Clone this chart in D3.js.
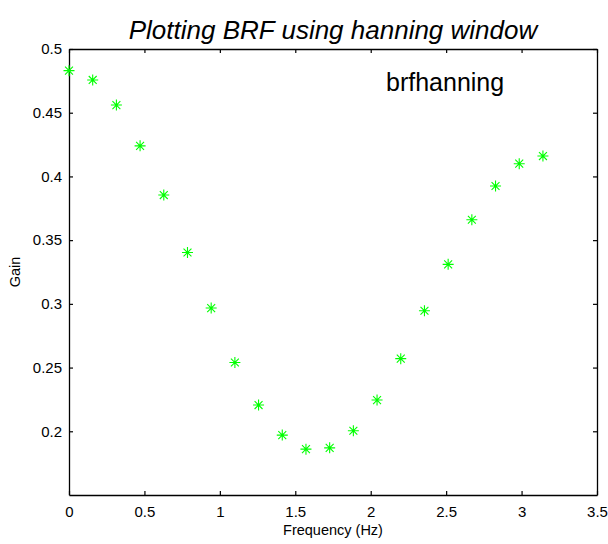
<!DOCTYPE html>
<html>
<head>
<meta charset="utf-8">
<script src="https://cdn.jsdelivr.net/npm/d3@7"></script>
<style>
  html, body { margin: 0; padding: 0; background: #fff; }
  svg { display: block; font-family: Arial, "Liberation Sans", Helvetica, sans-serif; }
</style>
</head>
<body>
<svg id="chart" width="608" height="544"></svg>
<script>
// Sample frequencies (Hz) and band-reject filter gain, Hanning window
const frequency = [0, 0.1571, 0.3142, 0.4712, 0.6283, 0.7854, 0.9425, 1.0996, 1.2566, 1.4137,
  1.5708, 1.7279, 1.8850, 2.0420, 2.1991, 2.3562, 2.5133, 2.6704, 2.8274, 2.9845, 3.1416];
const gain = [0.483, 0.4757, 0.456, 0.424, 0.3854, 0.3403, 0.2967, 0.254, 0.2206, 0.197,
  0.186, 0.187, 0.2004, 0.2245, 0.257, 0.2946, 0.331, 0.366, 0.3925, 0.410, 0.416];

const xTicks = [0, 0.5, 1, 1.5, 2, 2.5, 3, 3.5];
const yTicks = [0.2, 0.25, 0.3, 0.35, 0.4, 0.45, 0.5];
const xDomain = [0, 3.5];
const yDomain = [0.15, 0.5];

const titleText = "Plotting BRF using hanning window";
const xLabel = "Frequency (Hz)";
const yLabel = "Gain";
const legendText = "brfhanning";

const svg = d3.select("#chart");
const box = { left: 69, right: 597, top: 49, bottom: 495 };

const x = d3.scaleLinear().domain(xDomain).range([box.left, box.right]);
const y = d3.scaleLinear().domain(yDomain).range([box.bottom, box.top]);

const tickLen = 4;
const fmt = d => String(d);

// Bottom axis with labels, top axis mirrored without labels (inward ticks)
const gx = svg.append("g").attr("transform", `translate(0,${box.bottom})`)
  .call(d3.axisBottom(x).tickValues(xTicks).tickFormat(fmt).tickSizeInner(-tickLen).tickSizeOuter(0).tickPadding(11));
const gxt = svg.append("g").attr("transform", `translate(0,${box.top})`)
  .call(d3.axisTop(x).tickValues(xTicks).tickFormat("").tickSizeInner(-tickLen).tickSizeOuter(0));
const gy = svg.append("g").attr("transform", `translate(${box.left},0)`)
  .call(d3.axisLeft(y).tickValues(yTicks).tickFormat(fmt).tickSizeInner(-tickLen).tickSizeOuter(0).tickPadding(7));
const gyr = svg.append("g").attr("transform", `translate(${box.right},0)`)
  .call(d3.axisRight(y).tickValues(yTicks).tickFormat("").tickSizeInner(-tickLen).tickSizeOuter(0));

[gx, gxt, gy, gyr].forEach(g => {
  g.select(".domain").attr("stroke", "#000").attr("stroke-width", 1.3);
  g.selectAll(".tick line").attr("stroke", "#000").attr("stroke-width", 1.2);
  g.selectAll(".tick text").attr("fill", "#000").attr("font-size", 15)
    .attr("font-family", "Arial, 'Liberation Sans', sans-serif");
});

// Asterisk markers
const r = 5.5, d = r * 0.72;
const star = `M0,${-r}L0,${r}M${-r},0L${r},0M${-d},${-d}L${d},${d}M${-d},${d}L${d},${-d}`;
svg.append("g").selectAll("path")
  .data(frequency.map((f, i) => [f, gain[i]]))
  .join("path")
  .attr("transform", p => `translate(${x(p[0])},${y(p[1])})`)
  .attr("d", star)
  .attr("fill", "none")
  .attr("stroke", "#00ff00")
  .attr("stroke-width", 1.1);

// Title
svg.append("text")
  .attr("x", (box.left + box.right) / 2).attr("y", 39)
  .attr("text-anchor", "middle").attr("font-size", 26).attr("font-style", "italic")
  .attr("fill", "#000").text(titleText);

// Axis labels
svg.append("text")
  .attr("x", (box.left + box.right) / 2).attr("y", 535)
  .attr("text-anchor", "middle").attr("font-size", 14.5).attr("fill", "#000").text(xLabel);
svg.append("text")
  .attr("transform", `translate(20,${(box.top + box.bottom) / 2}) rotate(-90)`)
  .attr("text-anchor", "middle").attr("font-size", 14.5).attr("fill", "#000").text(yLabel);

// Legend entry
svg.append("text")
  .attr("x", 386).attr("y", 91)
  .attr("font-size", 25).attr("fill", "#000").text(legendText);
</script>
</body>
</html>
